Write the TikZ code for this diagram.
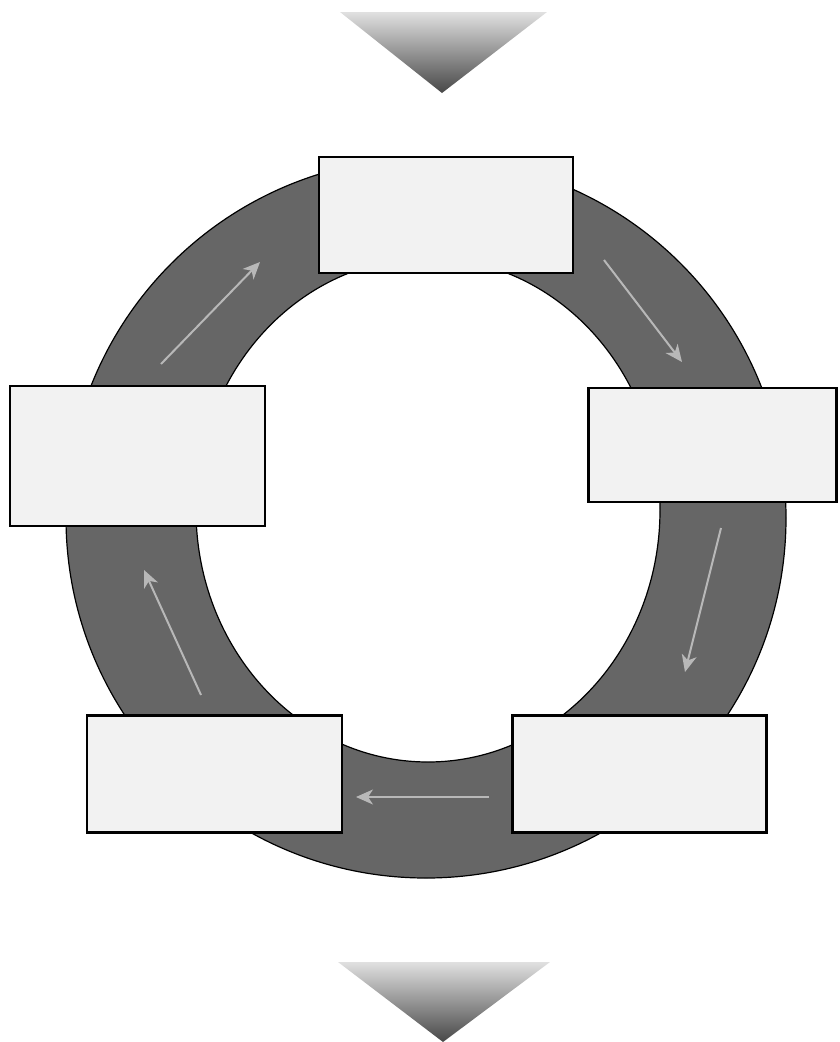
\documentclass[tikz,border=0pt]{standalone}
\usetikzlibrary{arrows.meta}
\definecolor{ringgray}{HTML}{666666}
\definecolor{boxfill}{HTML}{F2F2F2}
\definecolor{arrgray}{HTML}{B8B8B8}
\tikzset{
  stagebox/.style={draw=black, line width=2.6pt, fill=boxfill, inner sep=0pt},
  flowarrow/.style={draw=arrgray, line width=2pt, -{Stealth[length=17pt,width=15pt,inset=5pt]}},
  funnel/.style={top color=black!12, bottom color=black!72}
}
\begin{document}
\begin{tikzpicture}[x=1pt,y=-1pt]
\useasboundingbox (0,0) rectangle (840,1042);
% gradient triangles
\shade[funnel] (340,12) -- (547,12) -- (442,93) -- cycle;
\shade[funnel] (338,962) -- (550,962) -- (443,1042) -- cycle;
% ring
\fill[ringgray, even odd rule] (426,518) circle[radius=360pt] (428,510) ellipse[x radius=232pt, y radius=252pt];
\draw[black, line width=1.2pt] (426,518) circle[radius=360pt];
\draw[black, line width=1.2pt] (428,510) ellipse[x radius=232pt, y radius=252pt];
% arrow end points
\coordinate (a1s) at (161,364); \coordinate (a1e) at (260,262);
\coordinate (a2s) at (604,260); \coordinate (a2e) at (682,362);
\coordinate (a3s) at (721,528); \coordinate (a3e) at (685,672);
\coordinate (a4s) at (489,797); \coordinate (a4e) at (356,797);
\coordinate (a5s) at (201,695); \coordinate (a5e) at (144,570);
\draw[flowarrow] (a1s) -- (a1e);
\draw[flowarrow] (a2s) -- (a2e);
\draw[flowarrow] (a3s) -- (a3e);
\draw[flowarrow] (a4s) -- (a4e);
\draw[flowarrow] (a5s) -- (a5e);
% boxes
\node[stagebox, minimum width=254pt, minimum height=116pt] (top) at (446,215) {};
\node[stagebox, minimum width=255pt, minimum height=140pt] (left) at (137.5,456) {};
\node[stagebox, minimum width=248pt, minimum height=114pt] (right) at (712.5,445) {};
\node[stagebox, minimum width=255pt, minimum height=117pt] (botleft) at (214.5,774) {};
\node[stagebox, minimum width=254pt, minimum height=117pt] (botright) at (639.5,774) {};
\end{tikzpicture}
\end{document}
